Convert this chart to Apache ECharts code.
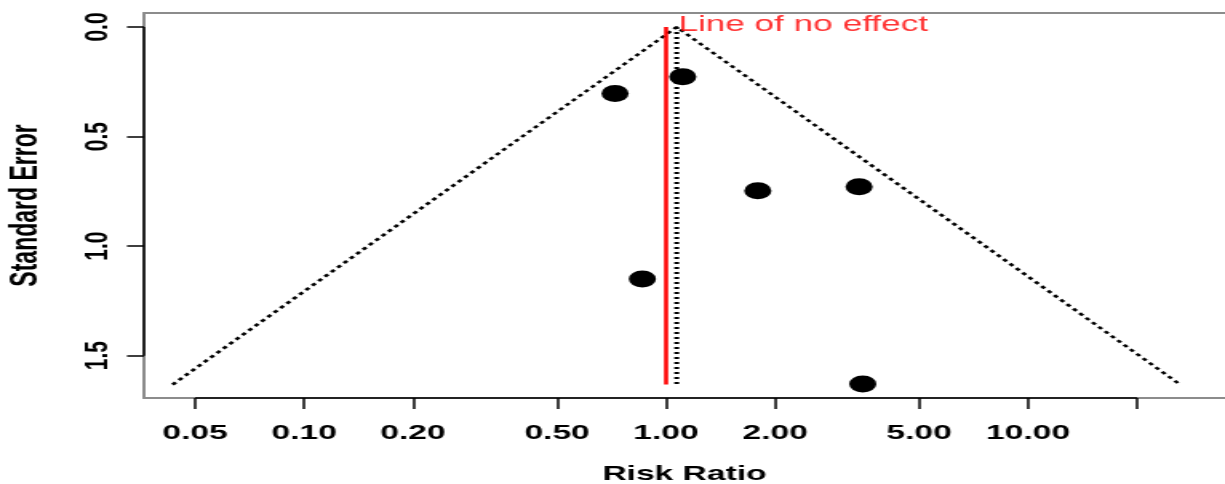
<!DOCTYPE html>
<html>
<head>
<meta charset="utf-8">
<script src="https://cdn.jsdelivr.net/npm/echarts@6/dist/echarts.min.js"></script>
<style>
  html, body { margin: 0; padding: 0; background: #fff; overflow: hidden; }
  #wrap { width: 1225px; height: 484px; overflow: hidden; }
  #chart { width: 766px; height: 484px; transform: scaleX(1.5992); transform-origin: 0 0; }
</style>
</head>
<body>
<div id="wrap"><div id="chart"></div></div>
<script>
// ---- data ----
const studyRR = [1.112, 0.723, 1.792, 3.414, 0.860, 3.494];   // risk ratios
const studySE = [0.227, 0.303, 0.747, 0.729, 1.150, 1.629];   // standard errors
const pooledRR = 1.07;          // funnel centre (dotted vertical)
const funnelSE = 1.632;         // standard error at bottom of funnel
const funnelLow = 0.0433;       // lower limit at bottom
const funnelHigh = 26.3;        // upper limit at bottom
const noEffectRR = 1;           // line of no effect
const xTicks = [0.05, 0.1, 0.2, 0.5, 1, 2, 5, 10, 20];
const xTickLabels = ['0.05', '0.10', '0.20', '0.50', '1.00', '2.00', '5.00', '10.00', ''];
const yTicks = [0, 0.5, 1, 1.5];
const yTickLabels = ['0.0', '0.5', '1.0', '1.5'];
const xMin = 0.0361, xMax = 35.0;
const yMin = -0.0639, yMax = 1.6933;

function labelFor(v, ticks, labels) {
  let best = 0, bd = Infinity;
  for (let i = 0; i < ticks.length; i++) {
    const d = Math.abs(Math.log(Math.abs(v) + 1e-12) - Math.log(ticks[i] + 1e-12));
    const d2 = Math.abs(v - ticks[i]);
    const dd = Math.min(d, d2);
    if (dd < bd) { bd = dd; best = i; }
  }
  return labels[best];
}

const chart = echarts.init(document.getElementById('chart'), null, { renderer: 'canvas' });
const font = 'Liberation Sans, Arial, Helvetica, sans-serif';
const boxGray = '#8c8c8c';

const option = {
  animation: false,
  backgroundColor: '#fff',
  grid: { left: 90, top: 13, right: 0, bottom: 86, show: false, containLabel: false, outerBoundsMode: 'none' },
  xAxis: [{
    type: 'log', logBase: 10, min: xMin, max: xMax, position: 'bottom',
    name: 'Risk Ratio', nameLocation: 'middle', nameGap: 66,
    nameTextStyle: { fontFamily: font, fontWeight: 'bold', fontSize: 21, color: '#000' },
    axisLine: { show: true, onZero: false, lineStyle: { color: boxGray, width: 2 } },
    splitLine: { show: false },
    minorTick: { show: false },
    axisTick: { show: true, customValues: xTicks, length: 11, lineStyle: { color: '#000', width: 1.5 } },
    axisLabel: {
      show: true, customValues: xTicks, margin: 25,
      fontFamily: font, fontWeight: 'bold', fontSize: 21, color: '#000',
      formatter: v => labelFor(v, xTicks, xTickLabels)
    }
  }, {
    type: 'log', logBase: 10, min: xMin, max: xMax, position: 'top',
    axisLine: { show: true, onZero: false, lineStyle: { color: boxGray, width: 2 } },
    axisTick: { show: false }, axisLabel: { show: false },
    splitLine: { show: false }, minorTick: { show: false }
  }],
  yAxis: {
    type: 'value', inverse: true, min: yMin, max: yMax,
    name: 'Standard Error', nameLocation: 'middle', nameGap: 62, nameRotate: 90,
    nameTextStyle: { fontFamily: font, fontWeight: 'bold', fontSize: 23, color: '#000' },
    axisLine: { show: true, onZero: false, lineStyle: { color: boxGray, width: 2 } },
    splitLine: { show: false },
    axisTick: { show: true, customValues: yTicks, length: 10.6, lineStyle: { color: '#000', width: 1.5 } },
    axisLabel: {
      show: true, customValues: yTicks, rotate: 90, margin: 18,
      fontFamily: font, fontWeight: 'bold', fontSize: 21, color: '#000',
      formatter: v => labelFor(v, yTicks, yTickLabels)
    }
  },
  series: [
    { // black axis segment (bottom)
      type: 'line', silent: true, clip: false, symbol: 'none', z: 5,
      data: [[xTicks[0], yMax], [xTicks[xTicks.length - 1], yMax]],
      lineStyle: { color: '#000', width: 1.5 }
    },
    { // black axis segment (left)
      type: 'line', silent: true, clip: false, symbol: 'none', z: 5,
      data: [[xMin, yTicks[0]], [xMin, yTicks[yTicks.length - 1]]],
      lineStyle: { color: '#000', width: 1.5 }
    },
    { // funnel
      type: 'line', silent: true, symbol: 'none', z: 2,
      data: [[funnelLow, funnelSE], [pooledRR, 0], [funnelHigh, funnelSE]],
      lineStyle: { color: '#000', width: 2.5, type: [3, 3] }
    },
    { // pooled estimate
      type: 'line', silent: true, symbol: 'none', z: 2,
      data: [[pooledRR, 0], [pooledRR, funnelSE]],
      lineStyle: { color: '#000', width: 3, type: [2, 3] }
    },
    { // line of no effect
      type: 'line', silent: true, symbol: 'none', z: 3,
      data: [[noEffectRR, 0], [noEffectRR, funnelSE]],
      lineStyle: { color: '#ff0000', width: 2.5 }
    },
    { // label
      type: 'scatter', silent: true, symbolSize: 0, z: 4,
      data: [[pooledRR, 0]],
      label: {
        show: true, position: 'right', distance: 1, offset: [0, -2],
        formatter: 'Line of no effect',
        fontFamily: font, fontSize: 22, color: '#ff0000'
      }
    },
    { // studies
      type: 'scatter', symbol: 'circle', symbolSize: 17, z: 6,
      itemStyle: { color: '#000', opacity: 1 },
      data: studyRR.map((r, i) => [r, studySE[i]])
    }
  ]
};
chart.setOption(option);
</script>
</body>
</html>
